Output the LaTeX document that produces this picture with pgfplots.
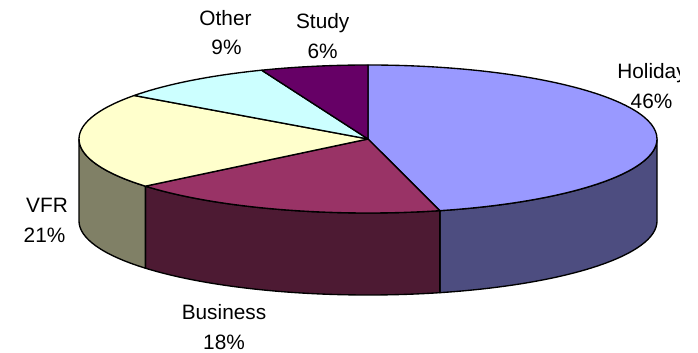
\documentclass[border=0pt]{standalone}
\usepackage{pgfplots}
\pgfplotsset{compat=1.18}
\usepackage{fontspec}
\setmainfont{Liberation Sans}
\definecolor{holtop}{HTML}{9999FF}
\definecolor{holside}{HTML}{4D4D80}
\definecolor{bustop}{HTML}{993366}
\definecolor{busside}{HTML}{4D1A33}
\definecolor{vfrtop}{HTML}{FFFFCC}
\definecolor{vfrside}{HTML}{808066}
\definecolor{othtop}{HTML}{CCFFFF}
\definecolor{stutop}{HTML}{660066}
\begin{document}
\begin{tikzpicture}
% data (percent)
\def\pH{46}\def\pB{18}\def\pV{21}\def\pO{9}\def\pS{6}
\pgfmathsetmacro\aA{90}
\pgfmathsetmacro\aB{\aA-3.6*\pH}
\pgfmathsetmacro\aC{\aB-3.6*\pB}
\pgfmathsetmacro\aD{\aC-3.6*\pV}
\pgfmathsetmacro\aE{\aD-3.6*\pO}
\pgfmathsetmacro\aF{\aE-3.6*\pS}
\useasboundingbox (0,0) rectangle (698pt,353pt);
\begin{axis}[scale only axis, width=698pt, height=353pt,
  xmin=0, xmax=698, ymin=0, ymax=353, hide axis, clip=false,
  at={(0pt,0pt)}, anchor=origin]
\tikzset{pe/.style={draw=black, line width=1.35pt, line join=round},
  er/.style={x radius=289pt, y radius=74pt}}
% side walls
\filldraw[pe, fill=holside] (axis cs:368,214) +(0:289pt and 74pt) arc[er, start angle=0, end angle=\aB] -- ++(0,-82pt) arc[er, start angle=\aB, end angle=0] -- cycle;
\filldraw[pe, fill=busside] (axis cs:368,214) +(\aB:289pt and 74pt) arc[er, start angle=\aB, end angle=\aC] -- ++(0,-82pt) arc[er, start angle=\aC, end angle=\aB] -- cycle;
\filldraw[pe, fill=vfrside] (axis cs:368,214) +(\aC:289pt and 74pt) arc[er, start angle=\aC, end angle=-180] -- ++(0,-82pt) arc[er, start angle=-180, end angle=\aC] -- cycle;
% top faces
\filldraw[pe, fill=holtop] (axis cs:368,214) -- +(\aA:289pt and 74pt) arc[er, start angle=\aA, end angle=\aB] -- cycle;
\filldraw[pe, fill=bustop] (axis cs:368,214) -- +(\aB:289pt and 74pt) arc[er, start angle=\aB, end angle=\aC] -- cycle;
\filldraw[pe, fill=vfrtop] (axis cs:368,214) -- +(\aC:289pt and 74pt) arc[er, start angle=\aC, end angle=\aD] -- cycle;
\filldraw[pe, fill=othtop] (axis cs:368,214) -- +(\aD:289pt and 74pt) arc[er, start angle=\aD, end angle=\aE] -- cycle;
\filldraw[pe, fill=stutop] (axis cs:368,214) -- +(\aE:289pt and 74pt) arc[er, start angle=\aE, end angle=\aF] -- cycle;
% labels
\tikzset{lb/.style={anchor=base, inner sep=0pt, font=\fontsize{20.8}{24}\selectfont}}
\node[lb] at (axis cs:225.5,327) {Other};
\node[lb] at (axis cs:226.5,298) {9\%};
\node[lb] at (axis cs:322.7,324) {Study};
\node[lb] at (axis cs:322.7,294) {6\%};
\node[lb] at (axis cs:652,274) {Holiday};
\node[lb] at (axis cs:651.5,244) {46\%};
\node[lb] at (axis cs:47,140) {VFR};
\node[lb] at (axis cs:44.5,110) {21\%};
\node[lb] at (axis cs:224,33) {Business};
\node[lb] at (axis cs:224,4) {18\%};
\fill[white] (axis cs:680,200) rectangle (axis cs:705,353);
\end{axis}
\end{tikzpicture}
\end{document}
